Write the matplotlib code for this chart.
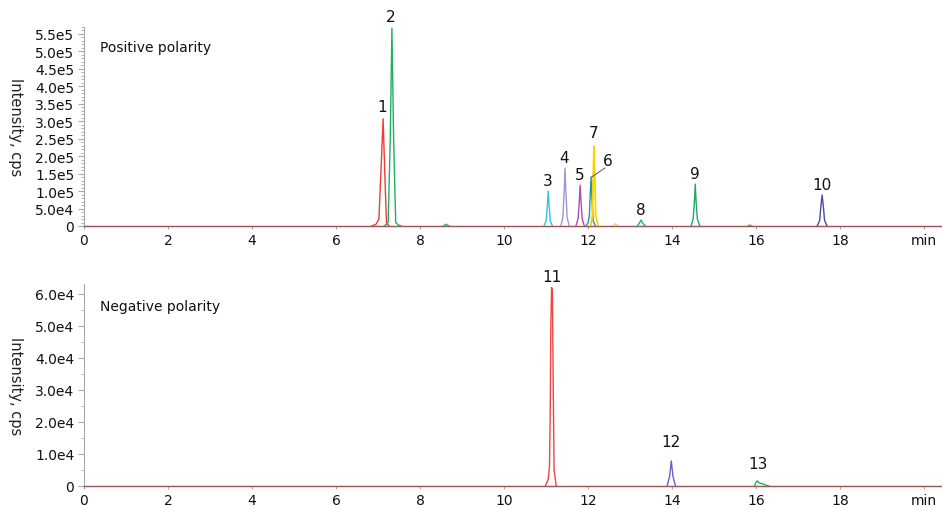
import matplotlib
matplotlib.use("Agg")
import matplotlib.pyplot as plt
from matplotlib.ticker import MultipleLocator

plt.rcParams['font.family'] = ['DejaVu Sans']

# ---------------- data ----------------
x_ticks = [0, 2, 4, 6, 8, 10, 12, 14, 16, 18, 20]
x_tick_labels = ["0", "2", "4", "6", "8", "10", "12", "14", "16", "18", "min"]

top_yticks = [0, 5e4, 1e5, 1.5e5, 2e5, 2.5e5, 3e5, 3.5e5, 4e5, 4.5e5, 5e5, 5.5e5]
top_ytick_labels = ["0", "5.0e4", "1.0e5", "1.5e5", "2.0e5", "2.5e5", "3.0e5",
                    "3.5e5", "4.0e5", "4.5e5", "5.0e5", "5.5e5"]
bot_yticks = [0, 1e4, 2e4, 3e4, 4e4, 5e4, 6e4]
bot_ytick_labels = ["0", "1.0e4", "2.0e4", "3.0e4", "4.0e4", "5.0e4", "6.0e4"]

# positive polarity peaks (time, intensity)
p1_t = [6.85, 6.95, 7.02, 7.07, 7.12, 7.16, 7.20, 7.26]
p1_y = [0, 5e3, 2e4, 1.6e5, 3.07e5, 1.5e5, 1e4, 0]
p2_t = [7.15, 7.24, 7.29, 7.33, 7.37, 7.42, 7.48, 7.55]
p2_y = [0, 1e4, 2.5e5, 5.67e5, 2.5e5, 1e4, 3e3, 0]
s1_t = [8.55, 8.62, 8.69]
s1_y = [0, 5e3, 0]
p3_t = [10.95, 11.00, 11.03, 11.05, 11.07, 11.10, 11.15]
p3_y = [0, 1.5e4, 6e4, 1.0e5, 6e4, 1.5e4, 0]
p4_t = [11.35, 11.40, 11.43, 11.45, 11.47, 11.50, 11.55]
p4_y = [0, 2.5e4, 1.0e5, 1.66e5, 1.0e5, 2.5e4, 0]
p5_t = [11.71, 11.76, 11.79, 11.81, 11.83, 11.86, 11.91]
p5_y = [0, 2e4, 7e4, 1.17e5, 7e4, 2e4, 0]
p6_t = [11.95, 12.00, 12.03, 12.05, 12.07, 12.09, 12.12, 12.17]
p6_y = [0, 1e4, 3e4, 9e4, 1.40e5, 8e4, 1.5e4, 0]
p7_t = [12.06, 12.10, 12.12, 12.14, 12.16, 12.18, 12.24]
p7_y = [0, 3e4, 1.4e5, 2.29e5, 1.4e5, 3e4, 0]
s2_t = [12.58, 12.65, 12.72]
s2_y = [0, 6e3, 0]
p8_t = [13.17, 13.22, 13.26, 13.30, 13.36]
p8_y = [0, 8e3, 1.7e4, 8e3, 0]
p9_t = [14.45, 14.50, 14.53, 14.55, 14.57, 14.60, 14.66]
p9_y = [0, 2e4, 7e4, 1.2e5, 7e4, 2e4, 0]
s3_t = [15.80, 15.85, 15.90]
s3_y = [0, 3e3, 0]
p10_t = [17.45, 17.51, 17.54, 17.57, 17.60, 17.63, 17.69]
p10_y = [0, 1.5e4, 5.5e4, 8.9e4, 5.5e4, 1.5e4, 0]

# negative polarity peaks
p11_t = [10.98, 11.05, 11.08, 11.10, 11.11, 11.13, 11.15, 11.17, 11.19, 11.24]
p11_y = [0, 2e3, 6e3, 2.5e4, 4.75e4, 6.19e4, 6.1e4, 3e4, 5e3, 0]
p12_t = [13.88, 13.94, 13.98, 14.02, 14.08]
p12_y = [0, 3e3, 7.8e3, 3e3, 0]
p13_t = [15.96, 16.00, 16.03, 16.08, 16.15, 16.22, 16.30]
p13_y = [0, 1.2e3, 1.6e3, 9e2, 7e2, 3e2, 0]

# peak labels: (text, x, y)
top_labels = ["1", "2", "3", "4", "5", "6", "7", "8", "9", "10"]
top_label_x = [7.10, 7.31, 11.03, 11.43, 11.79, 12.47, 12.14, 13.26, 14.55, 17.57]
top_label_y = [3.22e5, 5.8e5, 1.1e5, 1.75e5, 1.25e5, 1.65e5, 2.45e5, 2.5e4, 1.3e5, 0.96e5]
bot_labels = ["11", "12", "13"]
bot_label_x = [11.13, 13.98, 16.05]
bot_label_y = [6.3e4, 1.15e4, 4.7e3]

# ---------------- styling ----------------
base_col = '#9a5656'
axis_col = '#a8a8a8'

fig = plt.figure(figsize=(9.42, 5.10), dpi=100)
ax1 = fig.add_axes([84/942, 1-227/510, (941-84)/942, (227-28)/510])
ax2 = fig.add_axes([84/942, 1-487/510, (941-84)/942, (487-285)/510])

for ax in (ax1, ax2):
    ax.set_xlim(0, 20.4)
    for s in ('top', 'right'):
        ax.spines[s].set_visible(False)
    ax.spines['left'].set_color(axis_col)
    ax.spines['bottom'].set_color(axis_col)
    ax.set_xticks(x_ticks)
    ax.set_xticklabels(x_tick_labels)
    ax.tick_params(axis='both', which='both', colors=axis_col, labelcolor='#111111',
                   labelsize=10, direction='out')
    ax.tick_params(axis='x', length=2.5, pad=2.5)
    ax.tick_params(axis='y', which='major', length=4, pad=3)
    ax.tick_params(axis='y', which='minor', length=2)
    ax.plot([0, 20.4], [0, 0], color=base_col, lw=1.0, zorder=2.6, clip_on=False)
    ax.set_ylabel("Intensity, cps", rotation=-90, fontsize=10.5, color='#222222',
                  va='center')
    ax.yaxis.set_label_coords(-0.080, 0.5)

ax1.set_ylim(0, 5.7e5)
ax1.set_yticks(top_yticks)
ax1.set_yticklabels(top_ytick_labels)
ax1.yaxis.set_minor_locator(MultipleLocator(1e4))

ax2.set_ylim(0, 6.3e4)
ax2.set_yticks(bot_yticks)
ax2.set_yticklabels(bot_ytick_labels)
ax2.yaxis.set_minor_locator(MultipleLocator(5e3))

lw = 1.0
z = 3
ax1.plot(p1_t, p1_y, color='#ee3a3a', lw=lw, zorder=z)
ax1.plot(p2_t, p2_y, color='#1fb060', lw=lw, zorder=z)
ax1.plot(s1_t, s1_y, color='#1fb060', lw=lw, zorder=z)
ax1.plot(p3_t, p3_y, color='#2ec4ea', lw=lw, zorder=z)
ax1.plot(p4_t, p4_y, color='#a294dc', lw=lw, zorder=z)
ax1.plot(p5_t, p5_y, color='#b04ab4', lw=lw, zorder=z)
ax1.plot(p6_t, p6_y, color='#1a98a8', lw=lw, zorder=z)
ax1.plot(p7_t, p7_y, color='#f6d400', lw=1.3, zorder=z + 0.5)
ax1.plot(s2_t, s2_y, color='#d2d08a', lw=lw, zorder=z)
ax1.plot(p8_t, p8_y, color='#20a8a0', lw=lw, zorder=z)
ax1.plot(p9_t, p9_y, color='#1fa864', lw=lw, zorder=z)
ax1.plot(s3_t, s3_y, color='#3ab8b0', lw=lw, zorder=z)
ax1.plot(p10_t, p10_y, color='#4a4aa6', lw=lw, zorder=z)

ax2.plot(p11_t, p11_y, color='#f04444', lw=lw, zorder=z)
ax2.plot(p12_t, p12_y, color='#6464c4', lw=lw, zorder=z)
ax2.plot(p13_t, p13_y, color='#20b060', lw=lw, zorder=z)

for txt, x, y in zip(top_labels, top_label_x, top_label_y):
    ax1.text(x, y, txt, ha='center', va='bottom', fontsize=11, color='#111111',
             clip_on=False)
for txt, x, y in zip(bot_labels, bot_label_x, bot_label_y):
    ax2.text(x, y, txt, ha='center', va='bottom', fontsize=11, color='#111111',
             clip_on=False)

# leader line for peak 6
ax1.plot([12.08, 12.40], [1.40e5, 1.66e5], color='#555555', lw=0.7, zorder=4)

ax1.text(0.019, 0.90, "Positive polarity", transform=ax1.transAxes, fontsize=10,
         ha='left', va='center', color='#111111')
ax2.text(0.019, 0.89, "Negative polarity", transform=ax2.transAxes, fontsize=10,
         ha='left', va='center', color='#111111')

fig.savefig("out.png", dpi=100)
